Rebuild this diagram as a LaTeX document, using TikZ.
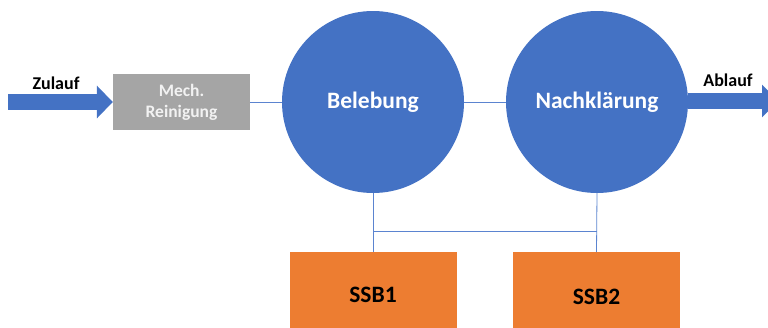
\documentclass[tikz,border=0pt]{standalone}
\usepackage{fontspec}
\setmainfont{Carlito}
\usetikzlibrary{arrows.meta}
\definecolor{cblue}{HTML}{4472C4}
\definecolor{corange}{HTML}{ED7D31}
\definecolor{cgray}{HTML}{A5A5A5}
\definecolor{cline}{HTML}{5B84D0}
\begin{document}
\begin{tikzpicture}[x=1pt,y=-1pt,
  basin/.style={circle,fill=cblue,minimum size=182pt,inner sep=0pt,text=white,font=\bfseries\fontsize{23.5}{26}\selectfont},
  ssbbox/.style={rectangle,fill=corange,minimum width=167pt,minimum height=80pt,inner sep=0pt},
  ssbtext/.style={font=\bfseries\fontsize{23.5}{26}\selectfont,inner sep=0pt},
  mechbox/.style={rectangle,fill=cgray,minimum width=137pt,minimum height=56pt,inner sep=0pt,text=white!95!black,align=center,font=\bfseries\fontsize{17.5}{21}\selectfont},
  flow/.style={cblue,line width=16pt,-{Triangle[width=32pt,length=16pt]}},
  link/.style={cline,line width=0.8pt},
  lbl/.style={font=\bfseries\fontsize{18}{21}\selectfont,inner sep=0pt}]
\useasboundingbox (0,0) rectangle (768,327);
\node[mechbox] (mech) at (181.5,102) {Mech.\\Reinigung};
\node[basin] (beleb) at (373,102) {Belebung};
\node[basin] (nach) at (597,102) {Nachklärung};
\node[ssbbox,anchor=north] (ssb1) at (373,252) {};
\node[ssbtext] (t1) at (373,295) {SSB1};
\node[ssbbox,anchor=north] (ssb2) at (596.5,252) {};
\node[ssbtext] (t2) at (596.5,297) {SSB2};
\coordinate (zin) at (8,102);
\coordinate (zout) at (778,101);
\draw[flow] (zin) -- (mech.west);
\draw[flow] (nach.east |- zout) -- (zout);
\node[lbl] (zl) at (56,83) {Zulauf};
\node[lbl] (al) at (728,80) {Ablauf};
\draw[link] (mech.east) -- (beleb.west);
\draw[link] (beleb.east) -- (nach.west);
\draw[link] (beleb.south) -- (ssb1.north);
\draw[link] (nach.south) -- (ssb2.north);
\coordinate (h1) at (beleb.south |- 0,231);
\coordinate (h2) at (nach.south |- 0,231);
\draw[link] (h1) -- (h2);
\end{tikzpicture}
\end{document}
